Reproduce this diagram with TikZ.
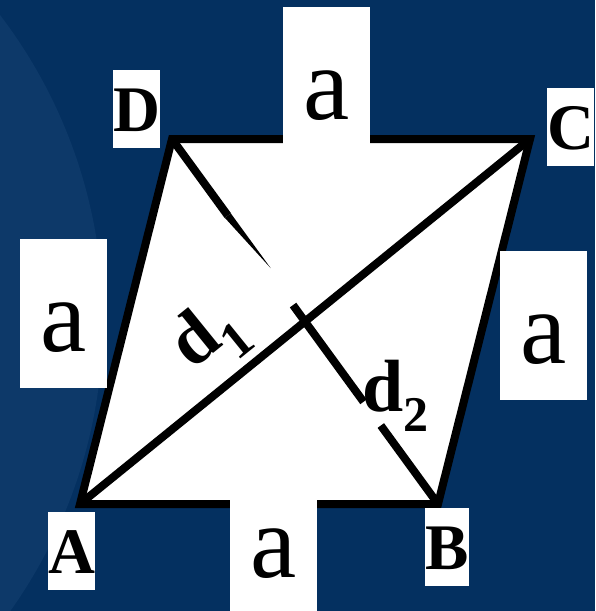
\documentclass[tikz,border=0pt]{standalone}
\usepackage{fontspec}
\setmainfont{Liberation Serif}
\usetikzlibrary{calc}
\definecolor{bgblue}{RGB}{4,48,96}
\definecolor{bglight}{RGB}{13,57,105}
\begin{document}
\begin{tikzpicture}[x=1pt, y=-1pt,
    edge/.style={black, line width=8pt},
    sidebox/.style={fill=white, inner sep=0pt, minimum width=87pt,
        text height=112pt, text depth=37pt, font=\fontsize{104}{104}\selectfont},
    vertexbox/.style={fill=white, inner sep=0pt, text height=61pt, text depth=17pt,
        font=\bfseries\fontsize{65}{65}\selectfont},
    diaglabel/.style={inner sep=0pt, font=\bfseries\fontsize{74}{74}\selectfont}]
    % Background
    \useasboundingbox (0,0) rectangle (595,611);
    \fill[bgblue] (0,0) rectangle (595,611);
    \begin{scope}
        \clip (0,0) rectangle (595,611);
        \fill[bglight] (-400,320) circle (503pt);
    \end{scope}

    % Rhombus corners
    \coordinate (A) at (80,504);
    \coordinate (B) at (438,504);
    \coordinate (C) at (530,139);
    \coordinate (D) at (172,139);

    % Rhombus
    \fill[white] (A) -- (B) -- (C) -- (D) -- cycle;
    \draw[edge] (A) -- (B) -- (C) -- (D) -- cycle;

    % Diagonal AC
    \draw[edge] (A) -- (C);

    % Diagonal BD, broken by the labels
    \coordinate (bdA) at ($(D)!0.21!(B)$);
    \coordinate (bdB) at ($(D)!0.455!(B)$);
    \coordinate (bdC) at ($(D)!0.72!(B)$);
    \coordinate (bdD) at ($(D)!0.785!(B)$);
    \draw[edge] (D) -- (bdA);
    \fill[black] ($(bdA)+(-3,2.2)$) -- ($(bdA)+(3,-2.2)$) -- ($(D)!0.36!(B)+(3,-2.2)$) -- cycle;
    \draw[edge] (bdB) -- (bdC);
    \draw[edge] (bdD) -- (B);

    % Side lengths
    \node[sidebox, anchor=north] (sideDC) at (326.5,7) {a};
    \node[sidebox, anchor=north] (sideAD) at (63.5,239) {a};
    \node[sidebox, anchor=north] (sideBC) at (543.5,251) {a};
    \node[sidebox, anchor=north] (sideAB) at (273.5,465) {a};

    % Corner names
    \node[vertexbox, anchor=north] (nameD) at (136.5,70) {D};
    \node[vertexbox, anchor=north] (nameC) at (570.5,88) {C};
    \node[vertexbox, anchor=north] (nameA) at (71.5,512) {A};
    \node[vertexbox, anchor=north] (nameB) at (447,508) {B};

    % Diagonal names
    \node[diaglabel, rotate=39, anchor=base west] (nameDone) at (192,371)
        {d\raisebox{-21pt}{\fontsize{52}{52}\selectfont 1}};
    \node[diaglabel, anchor=base west] (nameDtwo) at (362,411)
        {d\raisebox{-20pt}{\fontsize{50}{50}\selectfont 2}};
\end{tikzpicture}
\end{document}
